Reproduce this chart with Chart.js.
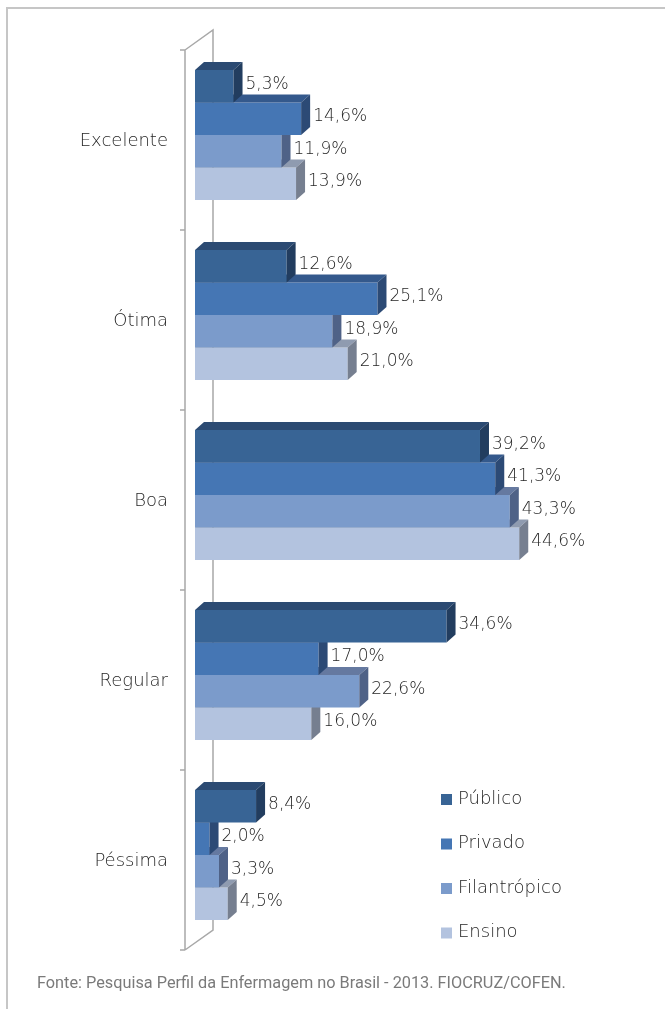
<!DOCTYPE html>
<html lang="pt-BR">
<head>
<meta charset="utf-8">
<title>Avaliação por tipo de instituição</title>
<script src="https://cdn.jsdelivr.net/npm/chart.js@4.4.1/dist/chart.umd.min.js"></script>
<style>
    html, body { margin: 0; padding: 0; background: #fff; overflow: hidden; }
    #wrap { position: relative; width: 665px; height: 1009px; overflow: hidden; }
    .rule { position: absolute; background: #c6c6c6; }
    #rule-top { left: 6px; top: 7px; width: 659px; height: 2px; }
    #rule-left { left: 6px; top: 7px; width: 2px; height: 1002px; }
    #chart { position: absolute; left: 0; top: 0; }
    #source {
        position: absolute; left: 37px; top: 973px;
        font: 16.3px Roboto, sans-serif; color: #7a7a7a; white-space: nowrap;
    }
</style>
</head>
<body>
<div id="wrap">
    <div class="rule" id="rule-top"></div>
    <div class="rule" id="rule-left"></div>
    <canvas id="chart" width="665" height="1009"></canvas>
    <div id="source">Fonte: Pesquisa Perfil da Enfermagem no Brasil - 2013. FIOCRUZ/COFEN.</div>
</div>
<script>
const categories = ['Excelente', 'Ótima', 'Boa', 'Regular', 'Péssima'];
const seriesNames = ['Público', 'Privado', 'Filantrópico', 'Ensino'];
const publico = [5.3, 12.6, 39.2, 34.6, 8.4];
const privado = [14.6, 25.1, 41.3, 17.0, 2.0];
const filantropico = [11.9, 18.9, 43.3, 22.6, 3.3];
const ensino = [13.9, 21.0, 44.6, 16.0, 4.5];

// front / top / side face colours for each series
const faceColors = [
    { front: '#386495', top: '#2b4a72', side: '#223d5f' },
    { front: '#4576b4', top: '#34598c', side: '#2c4a75' },
    { front: '#7b9bcb', top: '#6579a0', side: '#4f6287' },
    { front: '#b3c3df', top: '#8f9bb0', side: '#767f90' }
];

const FONT = '"DejaVu Sans", sans-serif';
const TEXT_COLOR = '#262626';
const DEPTH_X = 9;
const DEPTH_Y = 8;

const fmtPct = (v) => v.toFixed(1).replace('.', ',') + '%';

// Back wall of the 3D plot: front edge, back edge, joins and category ticks
const wallPlugin = {
    id: 'wall',
    beforeDatasetsDraw(chart) {
        const { ctx, chartArea } = chart;
        const yScale = chart.scales.y;
        const band = yScale.getPixelForValue(1) - yScale.getPixelForValue(0);
        const frontX = chartArea.left - 10;
        const backX = chartArea.left + 18;
        const top = chartArea.top + 5;
        const bottom = chartArea.bottom + 5;
        ctx.save();
        ctx.strokeStyle = '#a8a8a8';
        ctx.lineWidth = 1.5;
        ctx.beginPath();
        ctx.moveTo(frontX, top);
        ctx.lineTo(frontX, bottom);
        ctx.moveTo(frontX, top);
        ctx.lineTo(backX, top - 20);
        ctx.lineTo(backX, bottom - 20);
        ctx.lineTo(frontX, bottom);
        for (let i = 0; i <= categories.length; i++) {
            const y = top + i * band;
            ctx.moveTo(frontX - 5, y);
            ctx.lineTo(frontX, y);
        }
        ctx.stroke();
        ctx.restore();
    }
};

// Top and side faces, drawn right after each dataset so upper bars cover lower ones
const depthPlugin = {
    id: 'depth',
    afterDatasetDraw(chart, args) {
        const { ctx } = chart;
        const colors = faceColors[args.index];
        ctx.save();
        args.meta.data.forEach((bar) => {
            const top = bar.y - bar.height / 2;
            const bottom = bar.y + bar.height / 2;
            ctx.fillStyle = colors.top;
            ctx.beginPath();
            ctx.moveTo(bar.base, top);
            ctx.lineTo(bar.base + DEPTH_X, top - DEPTH_Y);
            ctx.lineTo(bar.x + DEPTH_X, top - DEPTH_Y);
            ctx.lineTo(bar.x, top);
            ctx.closePath();
            ctx.fill();
            ctx.fillStyle = colors.side;
            ctx.beginPath();
            ctx.moveTo(bar.x, top);
            ctx.lineTo(bar.x + DEPTH_X, top - DEPTH_Y);
            ctx.lineTo(bar.x + DEPTH_X, bottom - DEPTH_Y);
            ctx.lineTo(bar.x, bottom);
            ctx.closePath();
            ctx.fill();
        });
        ctx.restore();
    }
};

// Value labels and the legend at the lower right
const labelPlugin = {
    id: 'labels',
    afterDatasetsDraw(chart) {
        const { ctx } = chart;
        ctx.save();
        ctx.font = `200 17px ${FONT}`;
        ctx.fillStyle = TEXT_COLOR;
        ctx.textAlign = 'left';
        ctx.textBaseline = 'middle';
        chart.data.datasets.forEach((ds, i) => {
            chart.getDatasetMeta(i).data.forEach((bar, j) => {
                ctx.fillText(fmtPct(ds.data[j]), bar.x + DEPTH_X + 3, bar.y - 2);
            });
        });

        ctx.font = `200 18px ${FONT}`;
        chart.data.datasets.forEach((ds, i) => {
            const y = 799 + i * 44.5;
            ctx.fillStyle = ds.backgroundColor;
            ctx.fillRect(441, y - 5, 11, 11);
            ctx.fillStyle = TEXT_COLOR;
            ctx.fillText(ds.label, 458, y);
        });
        ctx.restore();
    }
};

const ctx = document.getElementById('chart').getContext('2d');
const chart = new Chart(ctx, {
    type: 'bar',
    data: {
        labels: categories,
        datasets: [publico, privado, filantropico, ensino].map((values, i) => ({
            label: seriesNames[i],
            data: values,
            backgroundColor: faceColors[i].front,
            borderWidth: 0,
            categoryPercentage: 0.722,
            barPercentage: 1.0
        }))
    },
    options: {
        indexAxis: 'y',
        responsive: false,
        devicePixelRatio: 1,
        animation: false,
        layout: { padding: { top: 45, bottom: 64, left: 0, right: 106.5 } },
        scales: {
            x: { display: false, min: 0, max: 50 },
            y: {
                grid: { display: false },
                border: { display: false },
                ticks: {
                    color: TEXT_COLOR,
                    padding: 19,
                    labelOffset: 6,
                    font: { family: FONT, size: 18, weight: 200 }
                },
                afterFit: (scale) => { scale.width = 195; }
            }
        },
        plugins: {
            legend: { display: false },
            tooltip: { enabled: false }
        }
    },
    plugins: [wallPlugin, depthPlugin, labelPlugin]
});
</script>
</body>
</html>
